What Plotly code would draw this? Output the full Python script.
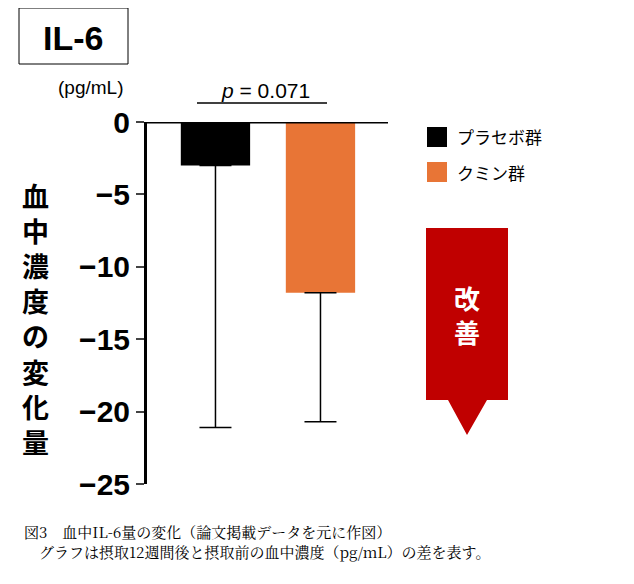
import plotly.graph_objects as go

groups = ["プラセボ群", "クミン群"]
means = [-3.0, -11.8]
err_lower = [18.1, 8.9]
colors = ["#000000", "#E87536"]
ytick_vals = [0, -5, -10, -15, -20, -25]

fig = go.Figure()
for i, g in enumerate(groups):
    fig.add_trace(go.Bar(
        x=[i], y=[means[i]], width=0.66, marker=dict(color=colors[i], line=dict(width=0)),
        error_y=dict(type="data", symmetric=False, array=[0], arrayminus=[err_lower[i]],
                     color="black", thickness=1.5, width=16),
        showlegend=False, name=g,
    ))

# page renders with an 8px offset, so lay out in shifted pixel coordinates
OFF = 8
W, H = 634, 584
L, R, T, B = 147 - OFF, 246 + OFF, 122 - OFF, 100 + OFF
pw, ph = W - L - R, H - T - B


def px(x):
    return (x - OFF - L) / pw


def py(y):
    return (H - B - (y - OFF)) / ph


shapes = [
    dict(type="line", xref="paper", yref="y", x0=0, x1=1, y0=0, y1=0, line=dict(color="black", width=3)),
    dict(type="line", xref="paper", yref="paper", x0=px(197), x1=px(327), y0=py(103), y1=py(103), line=dict(color="black", width=1.5)),
    dict(type="rect", xref="paper", yref="paper", x0=px(19), x1=px(128), y0=py(8), y1=py(64), line=dict(color="black", width=1)),
    dict(type="rect", xref="paper", yref="paper", x0=px(427), x1=px(447), y0=py(127), y1=py(147), fillcolor="black", line=dict(width=0)),
    dict(type="rect", xref="paper", yref="paper", x0=px(427), x1=px(447), y0=py(162), y1=py(182), fillcolor="#E87536", line=dict(width=0)),
]
path = (f"M {px(426)},{py(228)} L {px(508)},{py(228)} L {px(508)},{py(400)} L {px(487)},{py(400)} "
        f"L {px(467)},{py(435)} L {px(448)},{py(400)} L {px(426)},{py(400)} Z")
shapes.append(dict(type="path", xref="paper", yref="paper", path=path, fillcolor="#C00000", line=dict(width=0)))

jp = "Noto Sans CJK JP"
ann = [
    dict(x=px(73), y=py(38), text="<b>IL-6</b>", font=dict(size=34, family="Arial", color="black")),
    dict(x=px(90), y=py(88), text="(pg/mL)", font=dict(size=19, family="Arial", color="black")),
    dict(x=px(265), y=py(91), text="<i>p</i> = 0.071", font=dict(size=21, family="Arial", color="black")),
    dict(x=px(455), y=py(137), text="プラセボ群", xanchor="left", font=dict(size=17, family=jp, color="black")),
    dict(x=px(455), y=py(172), text="クミン群", xanchor="left", font=dict(size=17, family=jp, color="black")),
    dict(x=px(467), y=py(314), text="<b>改<br>善</b>", font=dict(size=26, family=jp, color="white")),
    dict(x=px(35), y=py(318), text="<b>" + "<br>".join("血中濃度の変化量") + "</b>",
         font=dict(size=27, family=jp, color="black")),
    dict(x=px(22), y=py(541), xanchor="left", align="left",
         text="図3　血中IL-6量の変化（論文掲載データを元に作図）<br>　グラフは摂取12週間後と摂取前の血中濃度（pg/mL）の差を表す。",
         font=dict(size=15, family="Noto Serif CJK JP, serif", color="black")),
]
for a in ann:
    a.setdefault("xanchor", "center")
    a.update(xref="paper", yref="paper", showarrow=False, yanchor="middle")

fig.update_layout(
    width=W, height=H, margin=dict(l=L, r=R, t=T, b=B),
    plot_bgcolor="white", paper_bgcolor="white",
    shapes=shapes, annotations=ann,
    xaxis=dict(range=[-0.652, 1.643], showticklabels=False, showgrid=False, zeroline=False, showline=False),
    yaxis=dict(range=[-25, 0], tickvals=ytick_vals, showgrid=False, zeroline=False,
               showline=True, linecolor="black", linewidth=3, ticks="outside", ticklen=8, tickwidth=2,
               tickfont=dict(size=30, family="Arial", color="black", weight="bold")),
)
fig.write_html("out.html")
